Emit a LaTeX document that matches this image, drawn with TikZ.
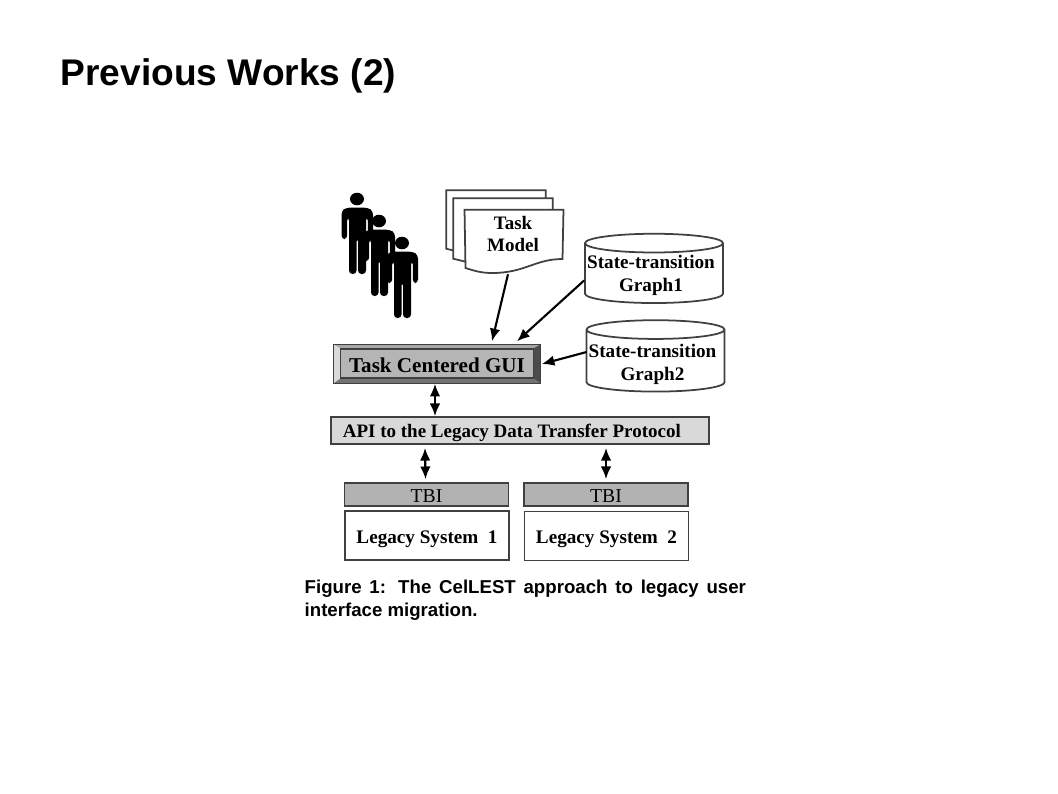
\documentclass[tikz,border=0pt]{standalone}
\usepackage{fontspec}
\setmainfont{Liberation Serif}
\newfontfamily\slidefont{Liberation Sans}
\usepackage{tikz}
\usetikzlibrary{calc,shapes,arrows.meta}
\definecolor{faceGray}{gray}{0.71}
\definecolor{apiGray}{gray}{0.85}
\definecolor{tbiGray}{gray}{0.70}
\definecolor{edgeGray}{gray}{0.25}
\tikzset{
  conn/.style={line width=0.6pt,{Latex[length=3.6pt,width=3pt]}-{Latex[length=3.6pt,width=3pt]}},
  feed/.style={line width=0.6pt,-{Latex[length=3.6pt,width=3pt]}},
  sheet/.style={draw=edgeGray,line width=0.5pt,fill=white},
  label/.style={font=\bfseries\fontsize{5.4}{6.3}\selectfont,align=center,inner sep=0pt},
  store/.style={draw=edgeGray,line width=0.5pt,fill=white,cylinder,shape border rotate=90,aspect=0.14,
    minimum width=1.38cm,minimum height=0.69cm,inner xsep=0pt,inner ysep=-0.6pt,
    font=\bfseries\fontsize{5.45}{6.5}\selectfont,align=center},
  tbibox/.style={draw=edgeGray,line width=0.5pt,fill=tbiGray,minimum width=1.64cm,minimum height=0.23cm,inner sep=0pt,
    text height=4.7pt,text depth=0pt,font=\fontsize{5.6}{6.6}\selectfont},
  legacybox/.style={draw=edgeGray,line width=0.5pt,fill=white,minimum width=1.64cm,minimum height=0.49cm,inner sep=0pt,
    text height=4.5pt,text depth=0pt,font=\bfseries\fontsize{5.45}{6.4}\selectfont}
}
\newcommand{\tikzPerson}[1]{
  \begin{scope}[shift={(#1)}]
  \fill (0,0) ellipse (7 and 6.3);
  \fill[rounded corners=1] (-15.5,40) -- (-15.5,12) -- (-11,8.7) -- (11,8.7) -- (16,12) -- (16,40) -- (10.8,40) -- (10.8,18) -- (9,18)
    -- (9,75) -- (1,75) -- (1,39) -- (-0.5,39) -- (-0.5,75) -- (-8,75) -- (-8,18) -- (-9.8,18) -- (-9.8,40) -- cycle;
  \end{scope}
}
\begin{document}
\begin{tikzpicture}[x=0.01cm,y=-0.01cm]
  \useasboundingbox (0,0) rectangle (1058,793);
  \node [anchor=west,inner sep=0pt,font=\slidefont\bfseries\fontsize{10.55}{12}\selectfont] (title) at (60,76) {Previous Works (2)};

  %group of users
  \tikzPerson{357,199}
  \tikzPerson{379,221}
  \tikzPerson{402,243}

  %pile of task model sheets
  \node [minimum width=0.98cm,minimum height=0.57cm,inner sep=0pt] (back) at (496,219.5) {};
  \path [sheet] (back.north west) -- (back.north east) -- (back.south east) -- (500,262) -- (back.south west) -- cycle;
  \node [minimum width=0.98cm,minimum height=0.59cm,inner sep=0pt] (mid) at (503,228.5) {};
  \path [sheet] (mid.north west) -- (mid.north east) -- (mid.south east) -- (500,270) -- (mid.south west) -- cycle;
  \node [minimum width=0.975cm,minimum height=0.49cm,inner sep=0pt] (taskBox) at (514,235) {};
  \path [sheet] (taskBox.north west) -- (taskBox.north east) -- (562.5,259)
    .. controls (535,259) and (525,273) .. (492,273)
    .. controls (480,273) and (472,270) .. (465.5,268) -- cycle;
  \node [label] (task) at (513,234) {Task\\Model};

  %state transition stores
  \node [store] (graphA) at (654,273.5) {\rule{0pt}{5pt}State-transition\hspace*{1.7pt}\\Graph1\hspace*{1.7pt}};
  \node [store] (graphB) at (655.5,361) {\rule{0pt}{5.6pt}State-transition\hspace*{1.7pt}\\Graph2\hspace*{1.7pt}};

  %bevelled gui box
  \node [fill=gray!55,minimum width=2.06cm,minimum height=0.38cm,inner sep=0pt] (frame) at (437,364) {};
  \node [minimum width=1.92cm,minimum height=0.29cm,inner sep=0pt] (face) at (437,363.5) {};
  \fill [gray!70] (frame.north west) -- (frame.north east) -- (face.north east) -- (face.north west) -- cycle;
  \fill [gray!30] (frame.north west) -- (frame.south west) -- (face.south west) -- (face.north west) -- cycle;
  \fill [gray!60!black] (frame.north east) -- (frame.south east) -- (face.south east) -- (face.north east) -- cycle;
  \fill [gray!90!black] (frame.south west) -- (frame.south east) -- (face.south east) -- (face.south west) -- cycle;
  \node [draw=edgeGray,line width=0.3pt,fill=faceGray,minimum width=1.92cm,minimum height=0.29cm,inner sep=0pt,
    text height=5pt,text depth=0pt,font=\bfseries\fontsize{6}{7}\selectfont] (gui) at (face) {Task Centered GUI};
  \draw [line width=0.4pt,edgeGray] (frame.north west) rectangle (frame.south east);

  \node [draw=edgeGray,line width=0.5pt,fill=apiGray,text width=3.54cm,inner xsep=0.12cm,inner ysep=0pt,minimum height=0.27cm,align=flush left,text depth=0pt,
    font=\bfseries\fontsize{5.4}{6.6}\selectfont] (api) at (520,430.5) {API to the Legacy Data Transfer Protocol};

  %legacy systems
  \node [tbibox] (tbiA) at (426.5,494.5) {TBI};
  \node [legacybox] (sysA) at (427,535.5) {Legacy System~~1};
  \node [tbibox] (tbiB) at (606,494.5) {TBI};
  \node [legacybox] (sysB) at (606.5,536) {Legacy System~~2};

  \node [anchor=north west,inner sep=0pt,text width=4.41cm,align=justify,
    font=\slidefont\bfseries\fontsize{5.3}{6.5}\selectfont] (caption) at (304,579)
    {Figure 1: The CelLEST approach to legacy user \mbox{interface} migration.};

  \draw [feed] ($(taskBox.south)+(-6,14)$) -- ($(frame.north)+(55,-3)$);
  \draw [feed] ($(graphA.west)+(0,7)$) -- ($(frame.north)+(80,-3)$);
  \draw [feed] ($(graphB.west)+(1,-9)$) -- ($(frame.east)+(1,0)$);
  \draw [conn] (frame.south) ++(-2,0) -- ($(api.north)+(-85,0)$);
  \draw [conn] ($(api.south)+(-95,3)$) -- ($(tbiA.north)+(-1,-3)$);
  \draw [conn] ($(api.south)+(86,3)$) -- ($(tbiB.north)+(0,-3)$);
\end{tikzpicture}
\end{document}
